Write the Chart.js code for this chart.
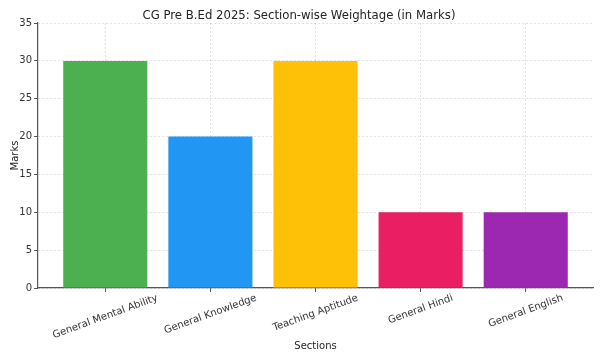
<!DOCTYPE html>
<html>
<head>
<meta charset="utf-8">
<script src="https://cdn.jsdelivr.net/npm/chart.js@4"></script>
<style>
  html, body { margin: 0; padding: 0; background: #fff; }
  #wrap { width: 602px; height: 360px; }
</style>
</head>
<body>
<div id="wrap"><canvas id="chart" width="602" height="360"></canvas></div>
<script>
// DATA
const sections = ["General Mental Ability", "General Knowledge", "Teaching Aptitude", "General Hindi", "General English"];
const marks = [30, 20, 30, 10, 10];
const barColors = ["#4CAF50", "#2196F3", "#FFC107", "#E91E63", "#9C27B0"];
const yTicks = [0, 5, 10, 15, 20, 25, 30, 35];

const FONT = "'DejaVu Sans', sans-serif";
const ROT = (20 * Math.PI) / 180;

// x labels are centred under the tick and rotated, like matplotlib rotation=20
const rotatedLabels = {
  id: "rotatedLabels",
  afterDraw(chart) {
    const x = chart.scales.x;
    const ctx = chart.ctx;
    ctx.save();
    ctx.font = "10px " + FONT;
    ctx.fillStyle = "#333";
    ctx.textAlign = "center";
    ctx.textBaseline = "middle";
    sections.forEach((label, i) => {
      const w = ctx.measureText(label).width;
      const h = 10;
      const boxH = w * Math.sin(ROT) + h * Math.cos(ROT);
      const px = x.getPixelForValue(i);
      const py = x.top + 5 + boxH / 2;
      ctx.save();
      ctx.translate(px, py);
      ctx.rotate(-ROT);
      ctx.fillText(label, 0, 0);
      ctx.restore();
    });
    ctx.restore();
  },
};

function setupChart() {
  const canvas = document.querySelector("#chart");

  new Chart(canvas, {
    type: "bar",
    data: {
      datasets: [
        {
          data: marks.map((v, i) => ({ x: i, y: v })),
          backgroundColor: barColors,
          borderWidth: 0,
          categoryPercentage: 1,
          barPercentage: 0.8,
        },
      ],
    },
    plugins: [rotatedLabels],
    options: {
      responsive: false,
      animation: false,
      layout: { padding: { left: 5, right: 9, top: 0, bottom: 4 } },
      plugins: {
        legend: { display: false },
        tooltip: { enabled: false },
        title: {
          display: true,
          text: "CG Pre B.Ed 2025: Section-wise Weightage (in Marks)",
          color: "#222",
          font: { family: FONT, size: 11.7, weight: "normal" },
          padding: { top: 9, bottom: 0 },
        },
      },
      scales: {
        x: {
          type: "linear",
          min: -0.64,
          max: 4.64,
          offset: false,
          z: 1,
          afterBuildTicks: (s) => {
            s.ticks = sections.map((_, i) => ({ value: i }));
          },
          afterFit: (s) => {
            s.height = 68;
          },
          ticks: { display: false },
          grid: {
            offset: false,
            color: "rgba(0,0,0,0.12)",
            tickColor: "#555",
            tickLength: 4,
            tickWidth: 1,
          },
          border: { color: "#555", width: 1.2, dash: [2, 2] },
          title: {
            display: true,
            text: "Sections",
            color: "#222",
            font: { family: FONT, size: 10 },
            padding: { top: 4, bottom: 4 },
          },
        },
        y: {
          min: 0,
          max: 35,
          z: 1,
          afterBuildTicks: (s) => {
            s.ticks = yTicks.map((v) => ({ value: v }));
          },
          afterFit: (s) => {
            s.width = 33;
          },
          ticks: {
            color: "#333",
            font: { family: FONT, size: 10 },
            padding: 2,
          },
          grid: {
            color: "rgba(0,0,0,0.12)",
            tickColor: "#555",
            tickLength: 4,
            tickWidth: 1,
          },
          border: { color: "#555", width: 1.2, dash: [2, 2] },
          title: {
            display: true,
            text: "Marks",
            color: "#222",
            font: { family: FONT, size: 10 },
            padding: { top: 4, bottom: 4 },
          },
        },
      },
    },
  });
}

document.addEventListener("DOMContentLoaded", setupChart);
</script>
</body>
</html>
